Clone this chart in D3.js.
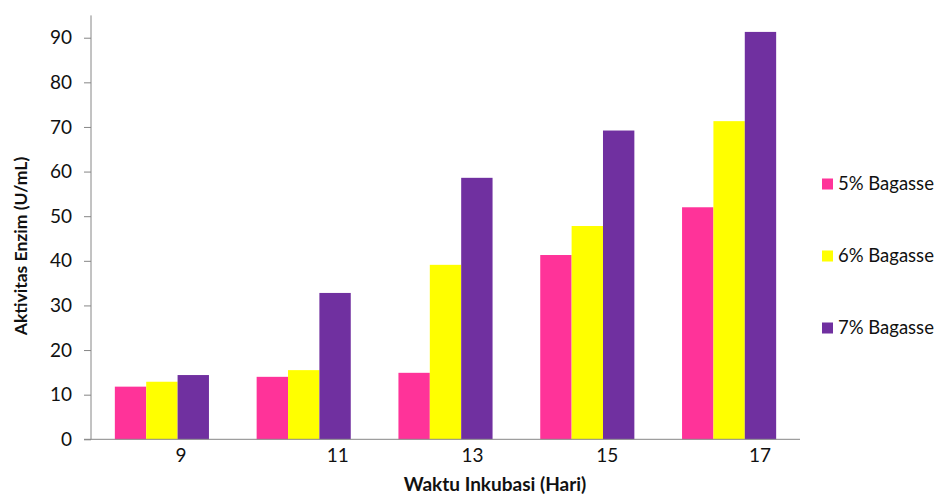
<!DOCTYPE html>
<html>
<head>
<meta charset="utf-8">
<script src="https://cdn.jsdelivr.net/npm/d3@7"></script>
<style>
  body { margin: 0; background: #fff; }
  text { font-family: Lato, "Open Sans", sans-serif; fill: #111; }
</style>
</head>
<body>
<div id="chart"></div>
<script>
const days = ['9', '11', '13', '15', '17'];
const seriesNames = ['5% Bagasse', '6% Bagasse', '7% Bagasse'];
const bagasse5 = [11.8, 14.0, 14.9, 41.3, 52.0];
const bagasse6 = [12.9, 15.5, 39.1, 47.8, 71.3];
const bagasse7 = [14.4, 32.8, 58.6, 69.2, 91.3];
const yTicks = [0, 10, 20, 30, 40, 50, 60, 70, 80, 90];

const colors = ['#FF3399', '#FFFF00', '#7030A0'];
const axisColor = '#868686';
const width = 938, height = 494;

const svg = d3.select('#chart').append('svg')
  .attr('width', width)
  .attr('height', height);

const values = [bagasse5, bagasse6, bagasse7];
const rows = days.map((d, i) => ({
  day: d,
  vals: seriesNames.map((s, j) => ({ key: s, value: values[j][i], idx: j }))
}));

const x0 = d3.scaleBand().domain(days).range([91, 800]);
const x1 = d3.scaleBand().domain(seriesNames)
  .range([0, x0.bandwidth()])
  .paddingOuter(0.76);
const y = d3.scaleLinear().domain([0, 95]).range([439.3, 15.4]);

// bars
svg.append('g').selectAll('g')
  .data(rows)
  .join('g')
  .attr('transform', d => `translate(${x0(d.day)},0)`)
  .selectAll('rect')
  .data(d => d.vals)
  .join('rect')
  .attr('x', d => x1(d.key))
  .attr('y', d => y(d.value))
  .attr('width', x1.bandwidth())
  .attr('height', d => y(0) - y(d.value))
  .attr('fill', d => colors[d.idx]);

// y axis
const yAxis = svg.append('g')
  .attr('transform', 'translate(91,0)')
  .call(d3.axisLeft(y).tickValues(yTicks).tickSize(7).tickPadding(12));
yAxis.select('.domain').attr('stroke', axisColor).attr('d', `M0,${y(0)}V${y(95)}`);
yAxis.selectAll('.tick line').attr('stroke', axisColor);
yAxis.selectAll('.tick text')
  .style('font-family', 'Lato, sans-serif')
  .style('font-size', '19px')
  .attr('fill', '#111');

// x axis
const xAxis = svg.append('g')
  .attr('transform', `translate(0,${y(0)})`)
  .call(d3.axisBottom(x0).tickSize(0).tickPadding(9));
xAxis.select('.domain').attr('stroke', axisColor).attr('d', `M84,0H800`);
// category labels in the original sit right of the group centres
const labelShift = [19, 34, 27, 20, 31];
xAxis.selectAll('.tick text')
  .attr('dx', (d, i) => labelShift[i])
  .style('font-family', 'Lato, sans-serif')
  .style('font-size', '19px')
  .attr('fill', '#111');

// axis titles
svg.append('text')
  .attr('transform', 'translate(27,246) rotate(-90)')
  .attr('text-anchor', 'middle')
  .style('font-size', '17.5px')
  .style('font-weight', 'bold')
  .text('Aktivitas Enzim (U/mL)');

svg.append('text')
  .attr('x', 495)
  .attr('y', 491)
  .attr('text-anchor', 'middle')
  .style('font-size', '19px')
  .style('font-weight', 'bold')
  .text('Waktu Inkubasi (Hari)');

// legend
const legend = svg.append('g').selectAll('g')
  .data(seriesNames)
  .join('g')
  .attr('transform', (d, i) => `translate(822,${184 + i * 72})`);
legend.append('rect')
  .attr('x', 0).attr('y', -5.5)
  .attr('width', 11).attr('height', 11)
  .attr('fill', (d, i) => colors[i]);
legend.append('text')
  .attr('x', 16)
  .attr('dy', '0.35em')
  .style('font-size', '18.5px')
  .text(d => d);
</script>
</body>
</html>
